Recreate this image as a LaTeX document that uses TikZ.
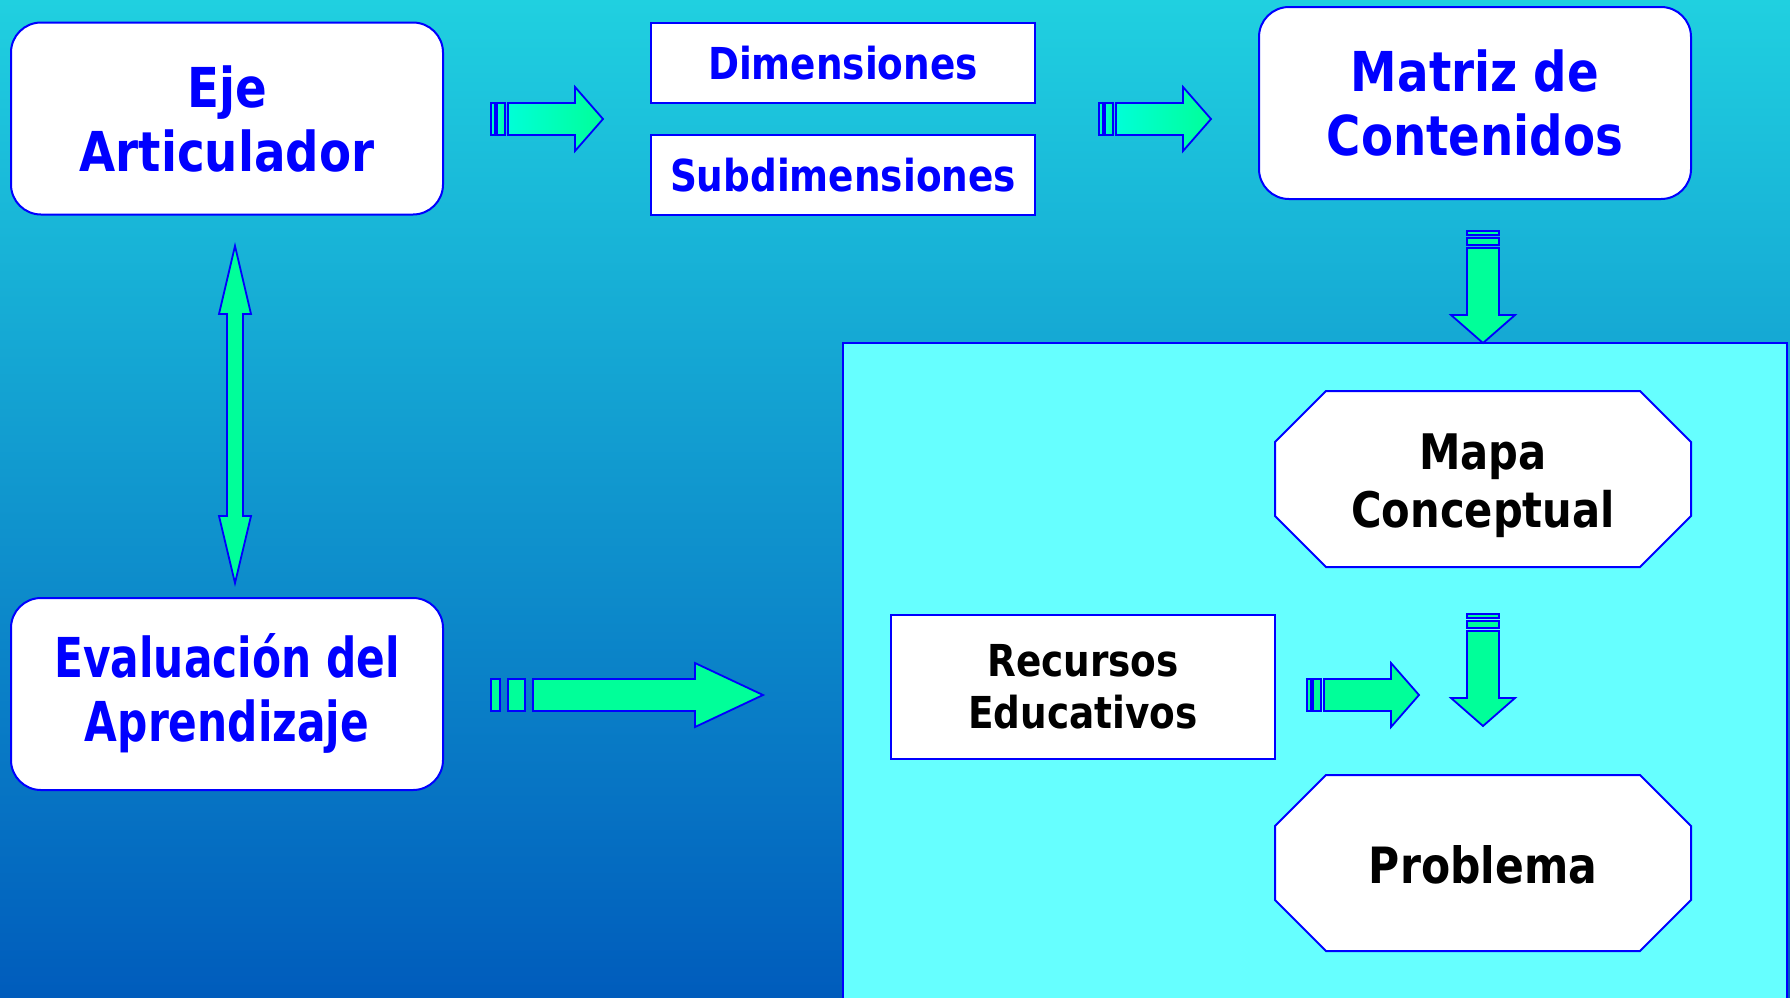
\documentclass[tikz,border=0pt]{standalone}
\usepackage{fontspec}
\newfontfamily\tfont{DejaVu Sans}[FakeStretch=0.85]
\newfontfamily\tfontn{DejaVu Sans}[FakeStretch=0.77]
\definecolor{bblue}{RGB}{0,0,255}
\definecolor{agreen}{RGB}{0,255,153}
\definecolor{acyan}{RGB}{0,255,215}
\definecolor{panelc}{RGB}{102,255,255}
\definecolor{bgtop}{RGB}{32,208,224}
\definecolor{bgmid}{RGB}{12,160,222}
\definecolor{bgbot}{RGB}{0,92,188}
\tikzset{
 rbox/.style={draw=bblue, line width=2pt, fill=white, rounded corners=30pt, minimum width=432pt, minimum height=192pt, align=center, text=bblue, inner sep=0pt, font=\tfont\bfseries\fontsize{55}{64}\selectfont},
 sbox/.style={draw=bblue, line width=2pt, fill=white, minimum width=384pt, minimum height=80pt, align=center, text=bblue, inner sep=0pt, font=\tfont\bfseries\fontsize{44}{52}\selectfont},
 oframe/.style={draw=bblue, line width=2pt, fill=white, line join=miter},
 otext/.style={align=center, inner sep=0pt, text=black},
 blk/.style={draw=bblue, line width=1.8pt, fill=agreen, line join=miter},
 blkc/.style={draw=bblue, line width=1.8pt, left color=acyan, right color=agreen, line join=miter},
 rarrow/.pic={
   \path[pic actions] (0,-16) rectangle (4,16);
   \path[pic actions] (6,-16) rectangle (14,16);
   \path[pic actions] (17,-16) -- (84,-16) -- (84,-32) -- (112,0) -- (84,32) -- (84,16) -- (17,16) -- cycle;
 },
 darrow/.pic={
   \path[pic actions] (-16,0) rectangle (16,4);
   \path[pic actions] (-16,7) rectangle (16,14);
   \path[pic actions] (-16,17) -- (-16,84) -- (-32,84) -- (0,112) -- (32,84) -- (16,84) -- (16,17) -- cycle;
 },
}
\begin{document}
\begin{tikzpicture}[x=1pt,y=-1pt]
\useasboundingbox (0,0) rectangle (1790,997);
\shade[top color=bgtop, middle color=bgmid, bottom color=bgbot] (0,0) rectangle (1790,997);
% panel
\path[draw=bblue, line width=2pt, fill=panelc] (843,343) rectangle (1787,1012);
% boxes
\node[rbox] (eje) at (227,118.5) {Eje\\Articulador};
\node[rbox, font=\tfontn\bfseries\fontsize{55}{64}\selectfont] (eval) at (227,694) {\raisebox{-6pt}[0pt][0pt]{\parbox{420pt}{\centering Evaluación del\\Aprendizaje}}};
\node[rbox] (matriz) at (1475,103) {Matriz de\\Contenidos};
\node[sbox] (dim) at (843,63) {Dimensiones};
\node[sbox] (sub) at (843,175) {Subdimensiones};
\node[sbox, minimum height=144pt, text=black, font=\tfont\bfseries\fontsize{44}{52}\selectfont] (rec) at (1083,687) {Recursos\\Educativos};
\path[oframe] (1275,442) -- (1326,391) -- (1640,391) -- (1691,442) -- (1691,516) -- (1640,567) -- (1326,567) -- (1275,516) -- cycle;
\node[otext, font=\tfont\bfseries\fontsize{49}{58}\selectfont] (mapa) at (1483,486) {Mapa\\Conceptual};
\path[oframe] (1275,826) -- (1326,775) -- (1640,775) -- (1691,826) -- (1691,900) -- (1640,951) -- (1326,951) -- (1275,900) -- cycle;
\node[otext, font=\tfont\bfseries\fontsize{50}{58}\selectfont] (prob) at (1483,865) {Problema};
% arrows
\pic[blkc] at (491,119) {rarrow};
\pic[blkc] at (1099,119) {rarrow};
\pic[blk] at (1307,695) {rarrow};
\pic[blk] at (1483,231) {darrow};
\pic[blk] at (1483,614) {darrow};
\path[blk] (491,679) rectangle (500,711);
\path[blk] (508,679) rectangle (525,711);
\path[blk] (533,679) -- (695,679) -- (695,663) -- (763,695) -- (695,727) -- (695,711) -- (533,711) -- cycle;
\path[blk] (235,246) -- (251,314) -- (243,314) -- (243,516) -- (251,516) -- (235,583) -- (219,516) -- (227,516) -- (227,314) -- (219,314) -- cycle;
\end{tikzpicture}
\end{document}
